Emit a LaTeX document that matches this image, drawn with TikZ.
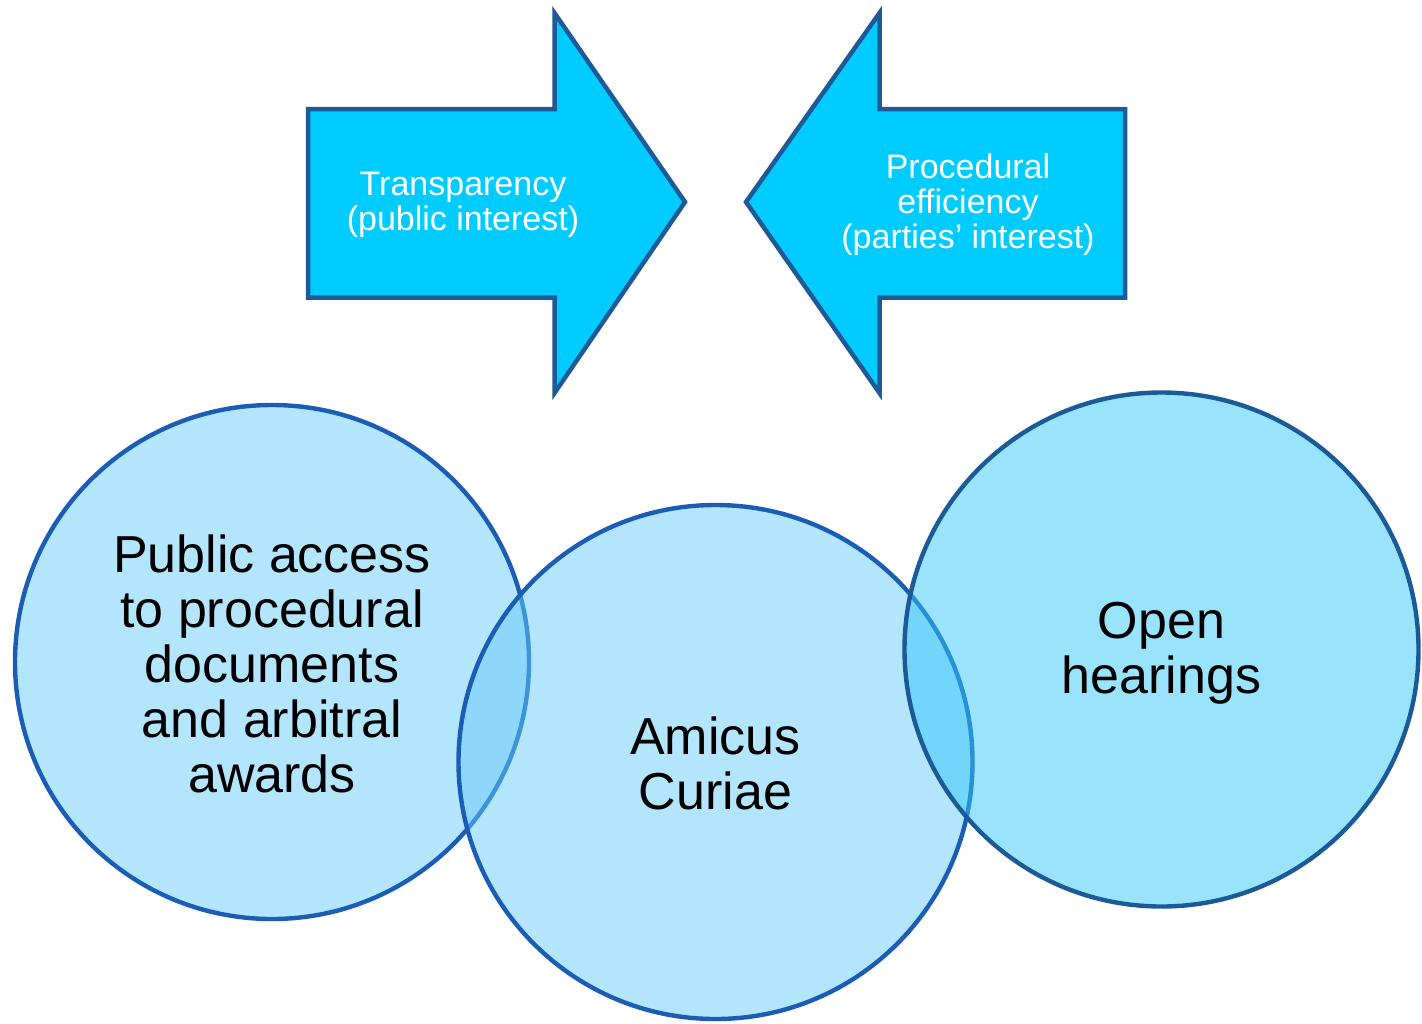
\documentclass[tikz,border=0pt]{standalone}
\usepackage{fontspec}
\setmainfont{Liberation Sans}
\definecolor{arrowfill}{HTML}{00CCFF}
\definecolor{arrowline}{HTML}{1C5A98}
\definecolor{bubfill}{HTML}{67CBF9}
\definecolor{bubline}{HTML}{1B5CB5}
\definecolor{rbubfill}{HTML}{33C7FB}
\definecolor{rbubline}{HTML}{1B5A96}
\begin{document}
\begin{tikzpicture}[x=0.5pt,y=-0.5pt,
  arrowshape/.style={fill=arrowfill,draw=arrowline,line width=2.25pt,line join=miter},
  arrowtext/.style={text=white,align=center,inner sep=0pt,font=\fontsize{17}{17.5}\selectfont},
  bubble/.style={circle,draw=bubline,fill=bubfill,fill opacity=0.5,draw opacity=1,text opacity=1,
    line width=2.2pt,minimum size=257pt,inner sep=0pt,align=center,text=black,
    font=\fontsize{26}{27.5}\selectfont}]
\useasboundingbox (0,0) rectangle (1422,1023);
% arrows
\draw[arrowshape] (308,109) -- (554.5,109) -- (554.5,13) -- (685,202) -- (554.5,393)
  -- (554.5,297.5) -- (308,297.5) -- cycle;
\draw[arrowshape] (1125,109) -- (879.5,109) -- (879.5,13) -- (746,202) -- (879.5,393)
  -- (879.5,297.5) -- (1125,297.5) -- cycle;
\node[arrowtext] (transp) at (463,205) {Transparency\\(public interest)};
\node[arrowtext] (effic) at (968,205) {Procedural\\efficiency\\(parties’ interest)};
% circles
\node[bubble] (pub) at (272,662) {};
\node[bubble] (amicus) at (715.5,762) {};
\node[bubble,draw=rbubline,fill=rbubfill] (open) at (1161.5,649.5) {};
% labels
\node[bubble,draw=none,fill=none] (pubtext) at (272,664) {Public access\\to procedural\\documents\\and arbitral\\awards};
\node[bubble,draw=none,fill=none] (amicustext) at (715.5,763) {Amicus\\Curiae};
\node[bubble,draw=none,fill=none] (opentext) at (1161.5,653) {Open\\hearings};
\end{tikzpicture}
\end{document}
